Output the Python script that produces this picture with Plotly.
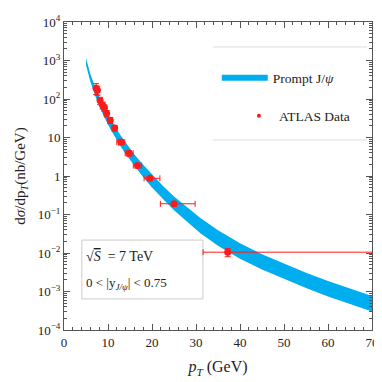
import plotly.graph_objects as go

# theory band (Prompt J/psi)
band_pt = [5, 6, 7, 8, 9, 10, 11, 12, 13, 14, 15, 16, 18, 20, 22.5, 25, 28,
           31, 35, 40, 45, 50, 55, 60, 65, 70]
band_hi = [1150, 447, 214, 112, 63.1, 38.9, 24.5, 16.2, 10.7, 7.41, 5.13,
           3.63, 1.95, 1.10, 0.550, 0.295, 0.151, 0.0813, 0.0389, 0.0178,
           0.00933, 0.00525, 0.00309, 0.00186, 0.00117, 0.000759]
band_lo = [760, 282, 129, 64.6, 36.3, 21.4, 13.5, 8.51, 5.62, 3.72, 2.57,
           1.82, 0.933, 0.501, 0.251, 0.129, 0.0631, 0.0324, 0.0155,
           0.00708, 0.00372, 0.00209, 0.00123, 0.000741, 0.000468, 0.000302]

# ATLAS data
atlas_pt = [7.3, 7.6, 8.2, 8.8, 9.2, 9.7, 10.5, 11.5, 12.9, 14.8, 16.7,
            19.5, 25.0, 37.2]
atlas_y = [190, 170, 91, 69, 59, 42, 28, 17.6, 7.6, 3.9, 1.86, 0.87, 0.19,
           0.0105]
atlas_yerr = [60, 45, 20, 14, 11, 8, 5, 3, 1.2, 0.6, 0.25, 0.1, 0.025,
              0.0025]
atlas_xerr_m = [0.25, 0.25, 0.25, 0.25, 0.25, 0.25, 0.5, 0.5, 0.9, 0.9,
                0.95, 1.3, 3.1, 5.6]
atlas_xerr_p = [0.25, 0.25, 0.25, 0.25, 0.25, 0.25, 0.5, 0.5, 0.9, 0.9,
                0.95, 2.3, 4.8, 33.0]

y_ticks = [1e-4, 1e-3, 1e-2, 1e-1, 1, 10, 1e2, 1e3, 1e4]
y_ticktext = ["10<sup>−4</sup>", "10<sup>−3</sup>", "10<sup>−2</sup>",
              "10<sup>−1</sup>", "1", "10", "10<sup>2</sup>", "10<sup>3</sup>",
              "10<sup>4</sup>"]

BLUE = "#00aeef"
RED = "#ff1a1a"
FONT = "Liberation Serif, DejaVu Serif, serif"
AX = "#555"

fig = go.Figure()
fig.add_trace(go.Scatter(
    x=band_pt + band_pt[::-1], y=band_hi + band_lo[::-1],
    fill="toself", fillcolor=BLUE, line=dict(width=0, color=BLUE),
    mode="lines", showlegend=False, hoverinfo="skip",
))
fig.add_trace(go.Scatter(
    x=atlas_pt, y=atlas_y, mode="markers", showlegend=False,
    marker=dict(color=RED, size=7),
    error_y=dict(type="data", array=atlas_yerr, color=RED, thickness=1,
                 width=3),
    error_x=dict(type="data", symmetric=False, array=atlas_xerr_p,
                 arrayminus=atlas_xerr_m, color=RED, thickness=1, width=3),
))
# legend-only entries
fig.add_trace(go.Scatter(
    x=[None], y=[None], mode="lines", name="Prompt J/<i>ψ</i>",
    line=dict(color=BLUE, width=6), legend="legend",
))
fig.add_trace(go.Scatter(
    x=[None], y=[None], mode="markers", name="ATLAS Data",
    marker=dict(color=RED, size=4), legend="legend2",
))

minor_y = [m * 10 ** e for e in range(-4, 4) for m in range(2, 10)]

fig.update_xaxes(
    range=[0, 70], dtick=10, tick0=0, ticks="inside", ticklen=6,
    tickcolor=AX, showline=True, linecolor=AX, linewidth=1, mirror="allticks",
    showgrid=False, zeroline=False, automargin=False,
    minor=dict(ticks="inside", dtick=2, ticklen=3, tickcolor=AX),
    title=dict(text="<i>p<sub>T</sub></i> (GeV)", standoff=12),
)
fig.update_yaxes(
    type="log", range=[-4, 4], tickmode="array", tickvals=y_ticks,
    ticktext=y_ticktext, ticks="inside", ticklen=6, tickcolor=AX,
    showline=True, linecolor=AX, linewidth=1, mirror="allticks",
    showgrid=False, zeroline=False, automargin=False,
    minor=dict(ticks="inside", tickmode="array", tickvals=minor_y,
               ticklen=3, tickcolor=AX),
    title=dict(text="d<i>σ</i>/dp<sub><i>T</i></sub>(nb/GeV)", standoff=8,
               font=dict(size=15)),
)

# the page has an 8px body margin, so the figure is 8px smaller
fig.update_layout(
    width=374, height=374,
    margin=dict(l=56, r=10, t=14, b=52, autoexpand=False),
    paper_bgcolor="white", plot_bgcolor="white",
    font=dict(family=FONT, size=13, color="#222"),
    legend=dict(x=0.496, y=0.818, xanchor="left", yanchor="middle",
                bgcolor="rgba(0,0,0,0)", font=dict(size=13.5),
                itemwidth=46),
    legend2=dict(x=0.568, y=0.695, xanchor="left", yanchor="middle",
                 bgcolor="rgba(0,0,0,0)", font=dict(size=13.5),
                 itemwidth=30),
    shapes=[
        dict(type="line", xref="paper", yref="paper", x0=0.484, x1=0.984,
             y0=0.919, y1=0.919, line=dict(color="#ddd", width=1)),
        dict(type="line", xref="paper", yref="paper", x0=0.484, x1=0.984,
             y0=0.617, y1=0.617, line=dict(color="#ddd", width=1)),
        dict(type="rect", xref="paper", yref="paper", x0=0.058, x1=0.451,
             y0=0.101, y1=0.292, line=dict(color="#ccc", width=1),
             fillcolor="white", layer="below"),
    ],
    annotations=[
        dict(text="√<span style='text-decoration:overline'><i>S</i></span>"
                  "  = 7 TeV",
             xref="paper", yref="paper", x=0.065, y=0.238, xanchor="left",
             yanchor="middle", showarrow=False, font=dict(size=14)),
        dict(text="0 < |y<sub><i>J/ψ</i></sub>| < 0.75",
             xref="paper", yref="paper", x=0.065, y=0.152, xanchor="left",
             yanchor="middle", showarrow=False, font=dict(size=13)),
    ],
)

fig.write_html("out.html")
